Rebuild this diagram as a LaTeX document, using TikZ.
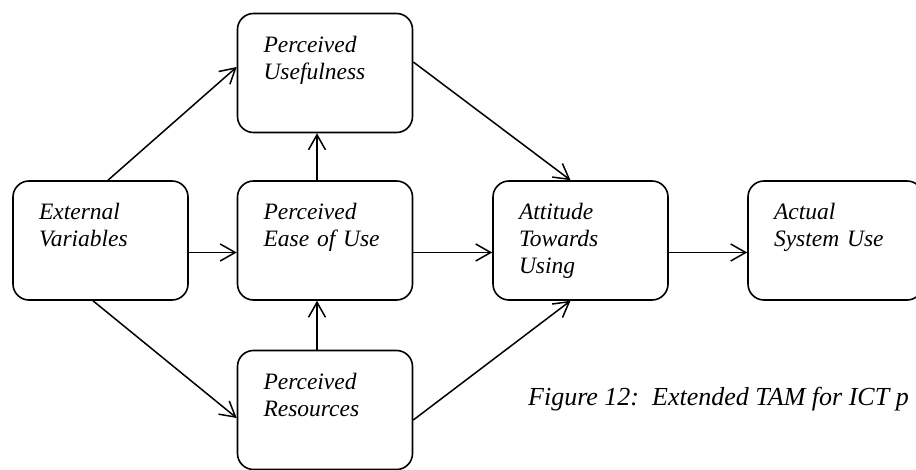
\documentclass[tikz,border=0pt]{standalone}
\usepackage{fontspec}
\setmainfont{Liberation Serif}
\usepackage{tikz}
\usetikzlibrary{arrows.meta,calc,positioning}

\begin{document}
\begin{tikzpicture}[x=1pt, y=1pt,
  >={Straight Barb[length=15pt, width=17pt]},
  font=\fontsize{23.5}{27}\selectfont\itshape,
  tambox/.style={draw, line width=1.6pt, rounded corners=16pt,
    inner xsep=26pt, inner ysep=0pt, text width=123pt,
    text height=38.7pt, text depth=80.3pt, align=left},
  link/.style={->, line width=1.5pt}]

\useasboundingbox (0,0) rectangle (916,-470);

% ---- Boxes ----
\node[tambox] (ext)      at (100.5,-240.5) {External\\Variables};
\node[tambox] (useful)   at (325,-73)      {Perceived\\Usefulness};
\node[tambox] (ease)     at (325,-240.5)   {Perceived\\Ease of Use};
\node[tambox] (resource) at (325,-410)     {Perceived\\Resources};
\node[tambox] (attitude) at (580.5,-240.5) {Attitude\\Towards\\Using};
\node[tambox] (actual)   at (835.5,-240.5) {Actual\\System Use};

% ---- Arrows from external variables ----
\draw[link] ([xshift=7.5pt]ext.north) -- ([yshift=6pt]useful.west);
\draw[link] ([yshift=-12pt]ext.east) -- ([yshift=-12pt]ease.west);
\draw[link] ([xshift=-7.5pt]ext.south) -- ([yshift=-8pt]resource.west);

% Into ease of use / usefulness
\draw[link] ([xshift=-8pt]ease.north) -- ([xshift=-8pt]useful.south);
\draw[link] ([xshift=-8pt]resource.north) -- ([xshift=-8pt]ease.south);

% Into attitude
\draw[link] ([yshift=11pt]useful.east) -- ([xshift=-10pt]attitude.north);
\draw[link] ([yshift=-12pt]ease.east) -- ([yshift=-12pt]attitude.west);
\draw[link] ([yshift=-10pt]resource.east) -- ([xshift=-10pt]attitude.south);

% Attitude to actual use
\draw[link] ([yshift=-12pt]attitude.east) -- ([yshift=-12pt]actual.west);

% Caption
\node[anchor=base west, inner sep=0pt, font=\fontsize{26}{30}\selectfont\itshape]
  (cap) at (528,-405) {Figure 12:\ \ Extended TAM for ICT p};

\end{tikzpicture}
\end{document}
